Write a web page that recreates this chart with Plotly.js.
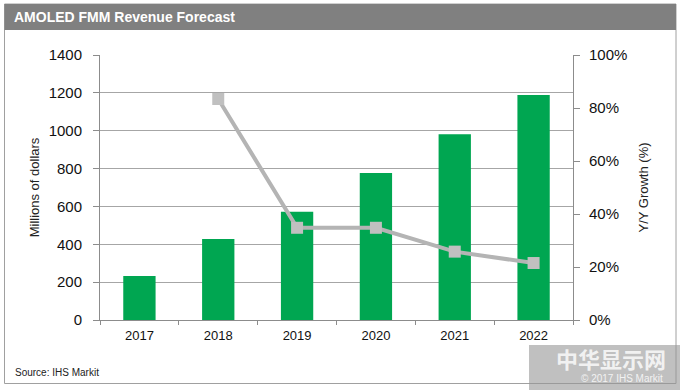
<!DOCTYPE html>
<html>
<head>
<meta charset="utf-8">
<script src="https://cdn.plot.ly/plotly-3.0.1.min.js"></script>
<style>html,body{margin:0;padding:0;background:#fff;}#chart{width:680px;height:390px;}</style>
</head>
<body>
<div id="chart"></div>
<script>
const years = ['2017', '2018', '2019', '2020', '2021', '2022'];
const revenue = [232, 428, 572, 777, 981, 1189];
const growthYears = ['2018', '2019', '2020', '2021', '2022'];
const growth = [0.834, 0.348, 0.348, 0.258, 0.215];

const W = 680, H = 390, L = 100, R = 107, T = 55, B = 70;
const pw = W - L - R, ph = H - T - B;
const px = x => (x - L) / pw;
const py = y => (H - B - y) / ph;

const font = 'Liberation Sans, Arial, sans-serif';

const data = [
  {type: 'bar', x: years, y: revenue, marker: {color: '#00a651'}, width: 0.41, yaxis: 'y', hoverinfo: 'skip'},
  {type: 'scatter', mode: 'lines+markers', x: growthYears, y: growth, yaxis: 'y2',
   line: {color: '#b4b4b4', width: 4}, marker: {symbol: 'square', size: 12, color: '#c0c0c0'}}
];

const layout = {
  width: W, height: H,
  margin: {l: L, r: R, t: T, b: B},
  paper_bgcolor: '#fff', plot_bgcolor: '#fff',
  showlegend: false,
  font: {family: font, color: '#111'},
  xaxis: {type: 'category', tickfont: {size: 13, color: '#111'}, showline: true, linecolor: '#8c8c8c', linewidth: 1,
          ticks: 'outside', tickson: 'boundaries', ticklen: 4, tickcolor: '#8c8c8c', showgrid: false, zeroline: false,
          ticklabelstandoff: 3},
  yaxis: {range: [0, 1400], dtick: 200, tickfont: {size: 15, color: '#111'}, showline: true, linecolor: '#8c8c8c',
          ticks: 'outside', ticklen: 6, tickcolor: '#8c8c8c', gridcolor: '#a6a6a6', gridwidth: 1, zeroline: false,
          ticklabelstandoff: 8,
          title: {text: 'Millions of dollars', font: {size: 13, color: '#222'}, standoff: 6}},
  yaxis2: {overlaying: 'y', side: 'right', range: [0, 1], dtick: 0.2, tickformat: '.0%', tickfont: {size: 15, color: '#111'},
           showline: true, linecolor: '#8c8c8c', ticks: 'outside', ticklen: 6, tickcolor: '#8c8c8c', showgrid: false, zeroline: false,
           ticklabelstandoff: 6,
           title: {text: 'Y/Y Growth (%)', font: {size: 13, color: '#222'}, standoff: 12}},
  shapes: [
    {type: 'rect', xref: 'paper', yref: 'paper', x0: px(4.5), x1: px(676), y0: py(383.5), y1: py(4), line: {color: '#a0a0a0', width: 1}, fillcolor: 'rgba(0,0,0,0)', layer: 'below'},
    {type: 'rect', xref: 'paper', yref: 'paper', x0: px(4.5), x1: px(676), y0: py(30), y1: py(4), line: {width: 0}, fillcolor: '#808080', layer: 'below'},
    {type: 'rect', xref: 'paper', yref: 'paper', x0: px(529), x1: px(680), y0: py(390), y1: py(345), line: {width: 0}, fillcolor: 'rgba(150,150,150,0.6)', layer: 'above'}
  ],
  annotations: [
    {xref: 'paper', yref: 'paper', x: px(12), y: py(17), xanchor: 'left', yanchor: 'middle', showarrow: false,
     text: '<b>AMOLED FMM Revenue Forecast</b>', font: {size: 14, color: '#fff', family: font}},
    {xref: 'paper', yref: 'paper', x: px(13), y: py(372), xanchor: 'left', yanchor: 'middle', showarrow: false,
     text: 'Source: IHS Markit', font: {size: 10, color: '#222', family: font}},
    {xref: 'paper', yref: 'paper', x: px(665), y: py(378), xanchor: 'right', yanchor: 'middle', showarrow: false,
     text: '© 2017 IHS Markit', font: {size: 10, color: '#f2f2f2', family: font}},
    {xref: 'paper', yref: 'paper', x: px(668), y: py(358), xanchor: 'right', yanchor: 'middle', showarrow: false,
     text: '<b>中华显示网</b>', font: {size: 22, color: 'rgba(255,255,255,0.8)', family: 'Noto Sans CJK SC'}}
  ]
};

Plotly.newPlot('chart', data, layout, {displayModeBar: false, staticPlot: true});
</script>
</body>
</html>
